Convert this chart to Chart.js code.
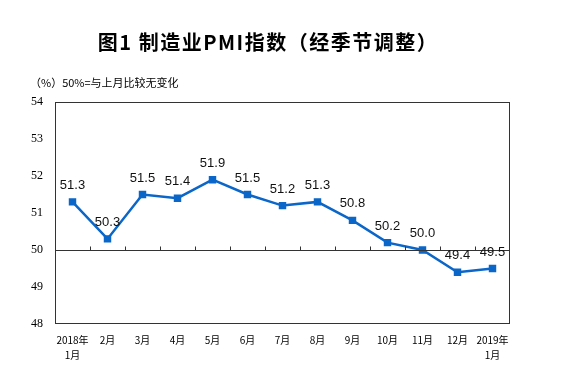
<!DOCTYPE html>
<html>
<head>
<meta charset="utf-8">
<script src="https://cdn.jsdelivr.net/npm/chart.js@4/dist/chart.umd.min.js"></script>
<style>
    html, body { margin: 0; padding: 0; background: #fff; }
    #wrap { width: 577px; height: 384px; position: relative; }
</style>
</head>
<body>
<div id="wrap"><canvas id="myChart" width="577" height="384"></canvas></div>
<script>
// data
var labels = [["2018年", "1月"], "2月", "3月", "4月", "5月", "6月", "7月", "8月", "9月", "10月", "11月", "12月", ["2019年", "1月"]];
var pmi = [51.3, 50.3, 51.5, 51.4, 51.9, 51.5, 51.2, 51.3, 50.8, 50.2, 50.0, 49.4, 49.5];
var yMin = 48, yMax = 54, yStep = 1;
var baseLine = 50;
var titleText = "图1 制造业PMI指数（经季节调整）";
var noteText = "（%）50%=与上月比较无变化";

var lineColor = "#0a66c8";

// title, box, 50 line and value labels
var extras = {
    id: "extras",
    afterDraw: function (chart) {
        var ctx = chart.ctx;
        var area = chart.chartArea;
        var xs = chart.scales.x;
        var ys = chart.scales.y;
        ctx.save();

        ctx.fillStyle = "#000";
        ctx.textAlign = "center";
        ctx.textBaseline = "middle";
        ctx.font = "bold 20px 'Noto Sans CJK SC'";
        ctx.letterSpacing = "1.5px";
        ctx.fillText(titleText, 268, 42);
        ctx.letterSpacing = "0px";

        ctx.textAlign = "left";
        ctx.font = "11px 'Noto Sans CJK SC'";
        ctx.fillText(noteText, 30, 83);

        // frame
        ctx.strokeStyle = "#333";
        ctx.lineWidth = 1;
        ctx.strokeRect(area.left + 0.5, area.top + 0.5, area.right - area.left - 1, area.bottom - area.top - 1);

        // 50 line with ticks
        var y50 = Math.round(ys.getPixelForValue(baseLine)) + 0.5;
        ctx.beginPath();
        ctx.moveTo(area.left, y50);
        ctx.lineTo(area.right, y50);
        for (var i = 0; i < labels.length - 1; i++) {
            var tx = Math.round(xs.getPixelForValue(i + 0.5)) + 0.5;
            ctx.moveTo(tx, y50);
            ctx.lineTo(tx, y50 - 4);
        }
        ctx.stroke();
        ctx.restore();

        ctx.save();
        var meta = chart.getDatasetMeta(0);
        ctx.fillStyle = "#111";
        ctx.font = "13px 'Liberation Sans'";
        ctx.textAlign = "center";
        ctx.textBaseline = "bottom";
        meta.data.forEach(function (pt, i) {
            ctx.fillText(pmi[i].toFixed(1), pt.x, pt.y - 10);
        });
        ctx.restore();
    }
};

var ctx = document.getElementById("myChart").getContext("2d");
var myChart = new Chart(ctx, {
    type: "line",
    data: {
        labels: labels,
        datasets: [{
            data: pmi,
            borderColor: lineColor,
            backgroundColor: lineColor,
            borderWidth: 2.5,
            pointStyle: "rect",
            pointRadius: 3.5,
            pointHoverRadius: 3.5,
            tension: 0
        }]
    },
    options: {
        responsive: false,
        animation: false,
        events: [],
        layout: { padding: { top: 102, right: 67, left: 0, bottom: 0 } },
        plugins: {
            legend: { display: false },
            tooltip: { enabled: false }
        },
        scales: {
            x: {
                offset: true,
                grid: { display: false, drawTicks: false },
                border: { display: false },
                ticks: {
                    color: "#000",
                    font: { family: "'Noto Sans CJK SC'", size: 10, lineHeight: 1.5 },
                    padding: 9,
                    maxRotation: 0,
                    autoSkip: false
                },
                afterFit: function (scale) { scale.height = 60; }
            },
            y: {
                min: yMin,
                max: yMax,
                grid: { display: false, drawTicks: false },
                border: { display: false },
                ticks: {
                    stepSize: yStep,
                    color: "#000",
                    font: { family: "'Liberation Serif'", size: 12 },
                    padding: 12
                },
                afterFit: function (scale) { scale.width = 55; }
            }
        }
    },
    plugins: [extras]
});
</script>
</body>
</html>
